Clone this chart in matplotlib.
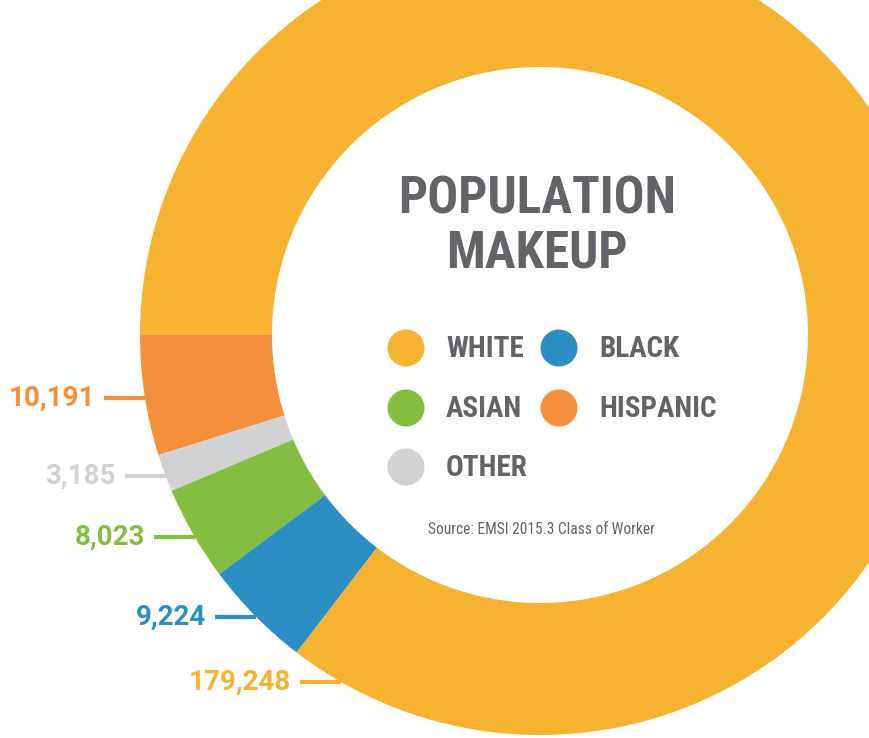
import numpy as np
import matplotlib
matplotlib.use("Agg")
import matplotlib.pyplot as plt
from matplotlib.patches import Circle

# data (pie order: counterclockwise on screen starting at 9 o'clock)
groups = ["HISPANIC", "OTHER", "ASIAN", "BLACK", "WHITE"]
counts = [10191, 3185, 8023, 9224, 179248]
colors = ["#F68F3A", "#D1D2D4", "#84BE41", "#2B8FC3", "#F5B331"]

# legend order
legend_names = ["WHITE", "BLACK", "ASIAN", "HISPANIC", "OTHER"]

# value labels, left side, top to bottom
label_values = ["10,191", "3,185", "8,023", "9,224", "179,248"]
label_colors = ["#F68F3A", "#D1D2D4", "#84BE41", "#2B8FC3", "#F5B331"]
label_y = [398, 476, 537, 617, 682]

grey = "#636467"
cond = ["Roboto Condensed", "DejaVu Sans"]

cx, cy, R, r = 540, 335, 400, 268

fig = plt.figure(figsize=(8.7, 7.38), dpi=100)
ax = fig.add_axes([0, 0, 1, 1])
ax.pie(counts, colors=colors, startangle=180, counterclock=False,
       center=(cx, cy), radius=R,
       wedgeprops=dict(width=R - r, linewidth=0))
ax.set_xlim(0, 870)
ax.set_ylim(738, 0)
ax.set_aspect("auto")
ax.axis("off")

# value labels with leader lines to the outer edge
for val, col, y in zip(label_values, label_colors, label_y):
    x_end = cx - np.sqrt(R ** 2 - (y - cy) ** 2)
    ax.plot([x_end - 41, x_end], [y, y], color=col, lw=3, solid_capstyle="butt")
    ax.text(x_end - 50, y, val, color=col, fontsize=20, fontweight="bold",
            family=["Roboto", "DejaVu Sans"], ha="right", va="center")

# title
ax.text(cx - 3, 200, "POPULATION", color=grey, fontsize=37, fontweight="bold",
        family=cond, ha="center", va="center")
ax.text(cx - 3, 253, "MAKEUP", color=grey, fontsize=37, fontweight="bold",
        family=cond, ha="center", va="center")

# legend
leg_pos = [(406, 348), (559, 348), (406, 408), (559, 408), (406, 467)]
for name, (lx, ly) in zip(legend_names, leg_pos):
    col = colors[groups.index(name)]
    ax.add_patch(Circle((lx, ly), 18.5, color=col, lw=0))
    ax.text(lx + 40, ly + 1, name, color=grey, fontsize=21, fontweight="bold",
            family=cond, ha="left", va="center")

ax.text(541, 529, "Source: EMSI 2015.3 Class of Worker", color=grey, fontsize=11.2,
        family=cond, ha="center", va="center")

fig.savefig("out.png", dpi=100, facecolor="white")
